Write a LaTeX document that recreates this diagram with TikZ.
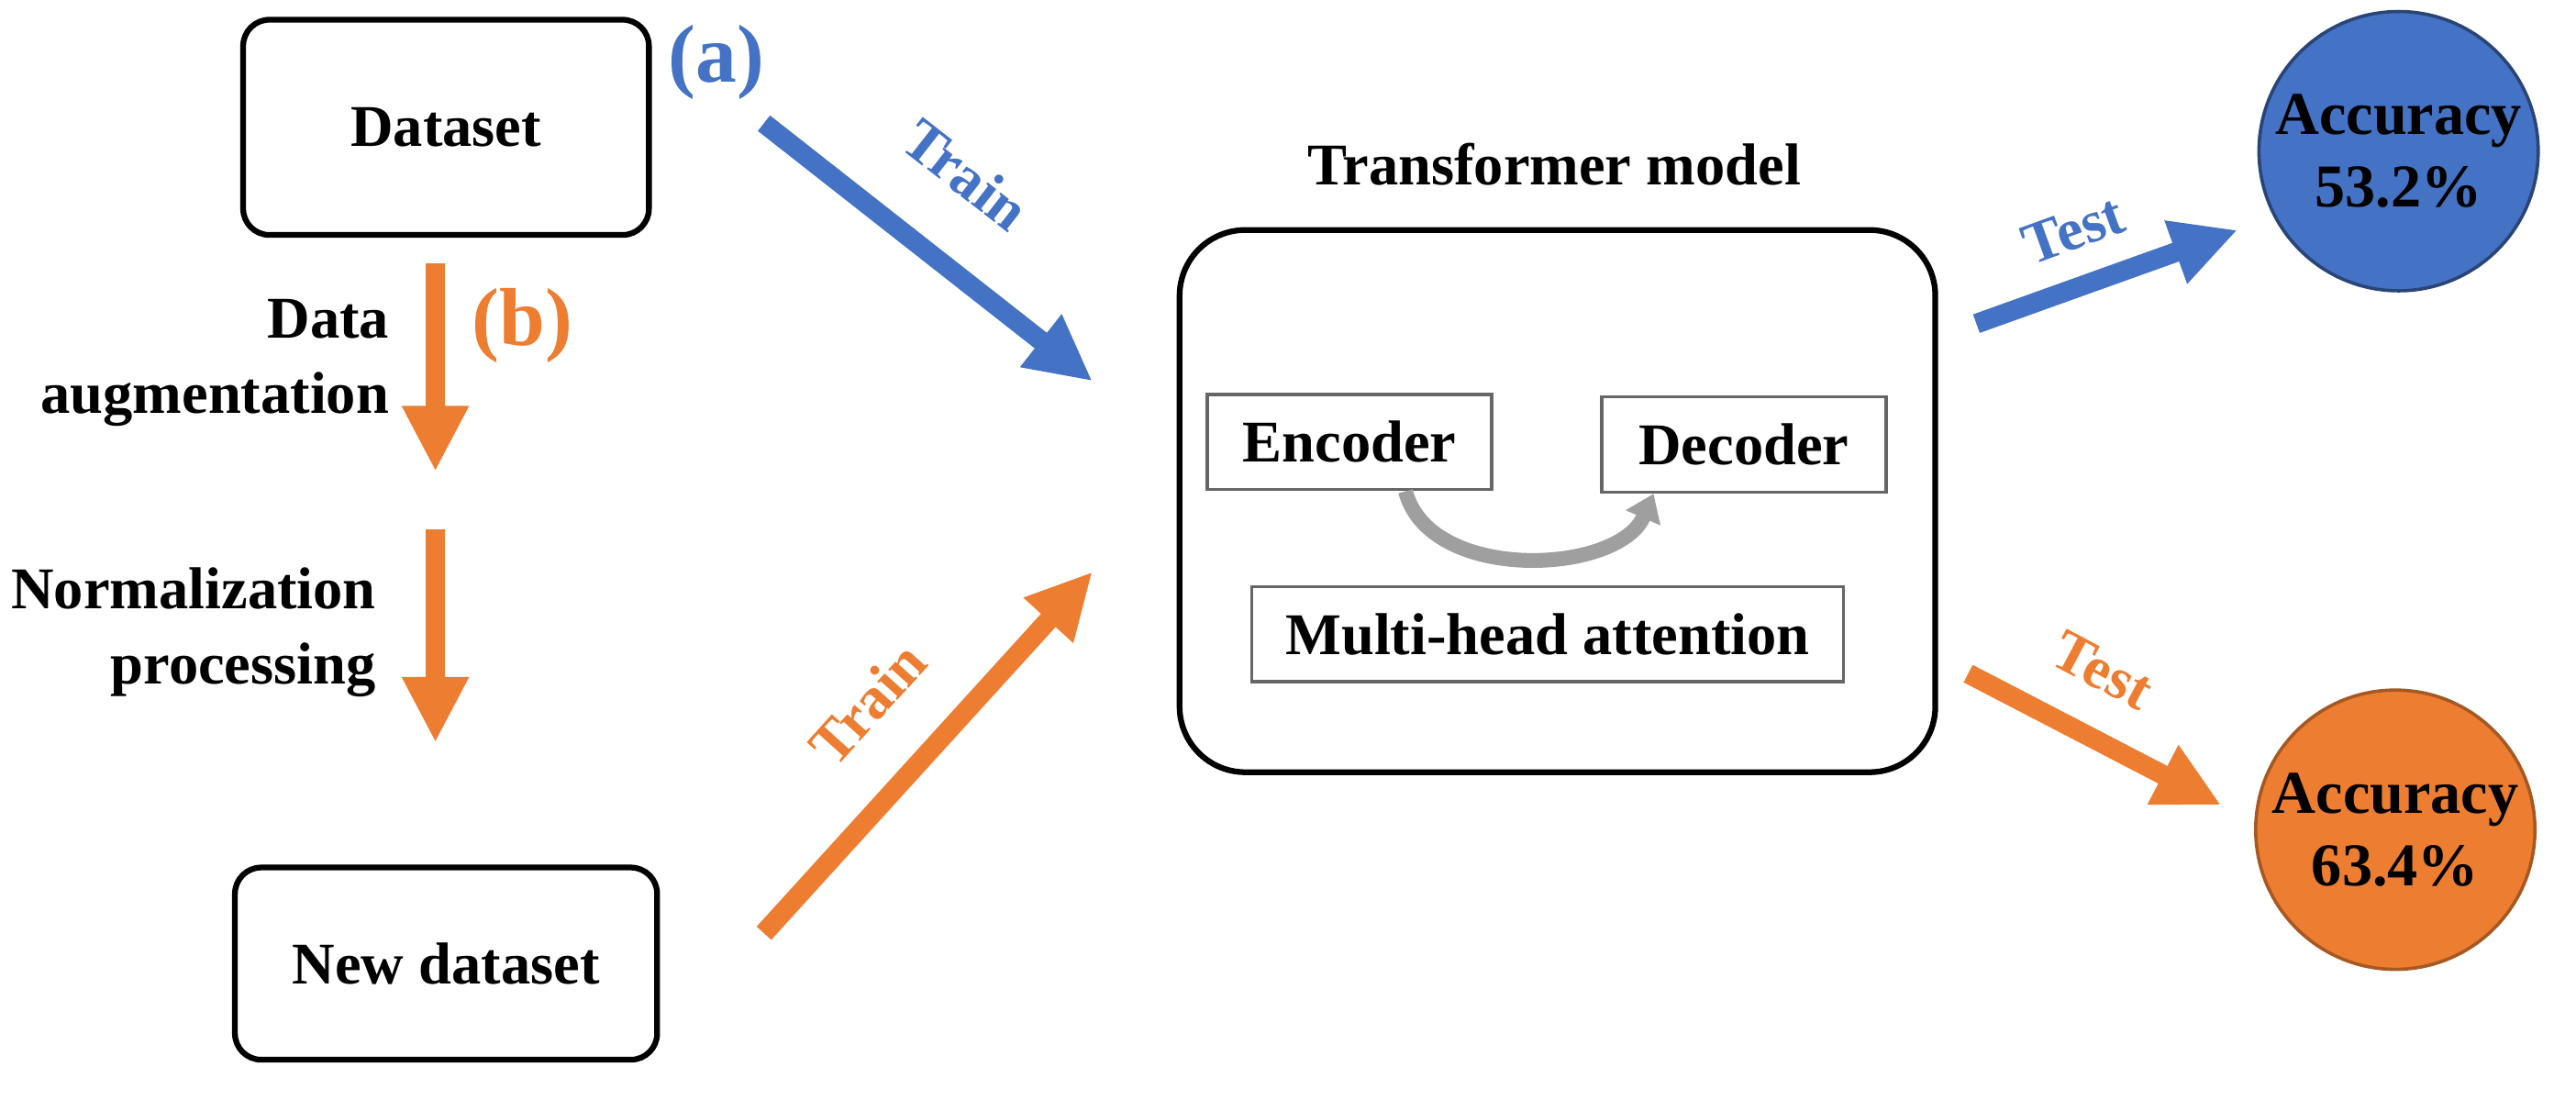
\documentclass[tikz,border=0pt]{standalone}
\usepackage{fontspec}
\setmainfont{Liberation Serif}
\usetikzlibrary{arrows.meta}
\definecolor{cb}{HTML}{4472C4}
\definecolor{co}{HTML}{ED7D31}
\begin{document}
\begin{tikzpicture}[x=1pt,y=-1pt,
 txt/.style={font=\fontsize{36}{46}\selectfont\bfseries},
 box/.style={draw,line width=3.5pt,rounded corners=16pt},
 ibox/.style={draw=gray!80!black,line width=2pt,minimum height=58pt,inner sep=2pt,font=\fontsize{36}{40}\selectfont\bfseries},
 fat/.style={line width=12pt,-{Triangle[width=38pt,length=40pt]}},
 lbl/.style={font=\fontsize{36}{40}\selectfont\bfseries}]
\useasboundingbox (0,0) rectangle (1568,669);
\node[box,minimum width=247pt,minimum height=131pt,txt] (ds) at (271.5,77.5) {Dataset};
\node[box,minimum width=257pt,minimum height=117pt,txt] (nd) at (271.5,586.5) {New dataset};
\node[text=cb,font=\fontsize{50}{54}\selectfont\bfseries] (a) at (436,38) {(a)};
\node[text=co,font=\fontsize{50}{54}\selectfont\bfseries] (b) at (318,198) {(b)};
\coordinate (d1) at (265,160); \coordinate (d2) at (265,287);
\coordinate (d3) at (265,322); \coordinate (d4) at (265,452);
\draw[fat,co] (d1) -- (d2);
\draw[fat,co] (d3) -- (d4);
\node[txt,align=right,anchor=east,inner sep=0pt] (da) at (237,221) {Data\\augmentation};
\node[txt,align=right,anchor=east,inner sep=0pt] (np) at (229,385) {Normalization\\processing};
\node[txt] (tm) at (946,100) {Transformer model};
\node[box,line width=3.5pt,rounded corners=40pt,minimum width=460pt,minimum height=330pt] (tb) at (948,305) {};
\node[ibox,minimum width=173pt] (enc) at (821.5,269) {Encoder};
\node[ibox,minimum width=173pt] (dec) at (1061.5,270.5) {Decoder};
\node[ibox,minimum width=360pt] (mha) at (942,386) {Multi-head attention};
\draw[line width=9pt,gray!75,-{Triangle[width=22pt,length=16pt]}] ([xshift=34pt]enc.south) .. controls (870,355) and (985,350) .. ([xshift=-55pt]dec.south);
\coordinate (t1) at (465,75); \coordinate (t2) at (665,232);
\draw[fat,cb] (t1) -- (t2);
\node[lbl,text=cb,rotate=-38] (trb) at (588,106) {Train};
\coordinate (o1) at (465,568); \coordinate (o2) at (665,348);
\draw[fat,co] (o1) -- (o2);
\node[lbl,text=co,rotate=48] (tro) at (528,428) {Train};
\node[circle,fill=cb,draw=cb!60!black,line width=2pt,minimum size=170pt,inner sep=0pt,font=\fontsize{37}{44}\selectfont\bfseries,align=center] (c1) at (1460,92) {Accuracy\\53.2\%};
\node[circle,fill=co,draw=co!70!black,line width=2pt,minimum size=170pt,inner sep=0pt,font=\fontsize{37}{44}\selectfont\bfseries,align=center] (c2) at (1458,505) {Accuracy\\63.4\%};
\coordinate (b1) at (1203,197); \coordinate (b2) at (1362,140);
\draw[fat,cb] (b1) -- (b2);
\node[lbl,text=cb,rotate=20] (teb) at (1262,140) {Test};
\coordinate (e1) at (1198,410); \coordinate (e2) at (1352,490);
\draw[fat,co] (e1) -- (e2);
\node[lbl,text=co,rotate=-28] (teo) at (1280,408) {Test};
\end{tikzpicture}
\end{document}
